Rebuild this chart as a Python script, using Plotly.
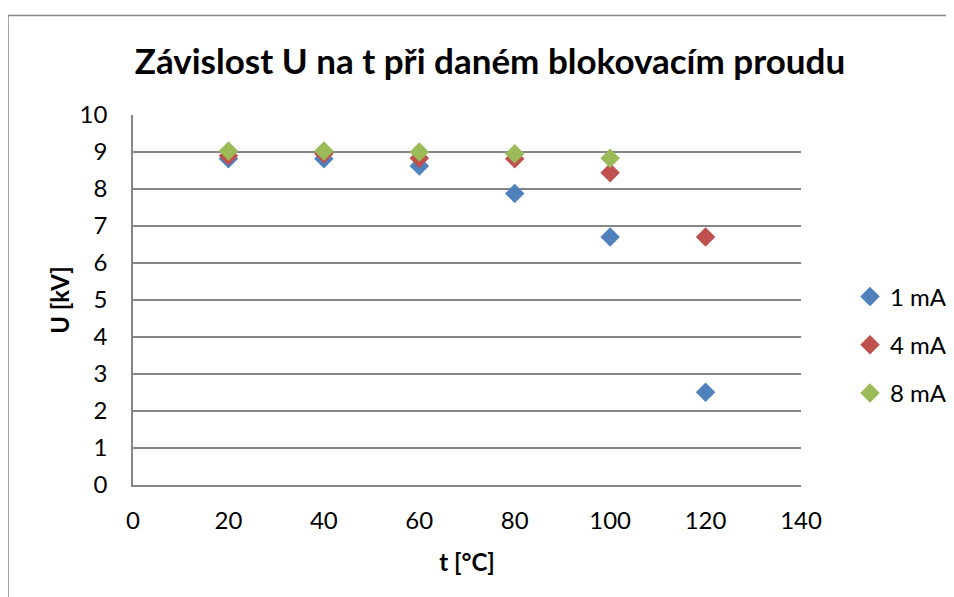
import plotly.graph_objects as go

t_vals = [20, 40, 60, 80, 100, 120]
u_1mA = [8.82, 8.82, 8.62, 7.88, 6.70, 2.51]
u_4mA = [8.90, 8.95, 8.83, 8.82, 8.44, 6.70]
t_8mA = [20, 40, 60, 80, 100]
u_8mA = [9.03, 9.03, 9.00, 8.95, 8.83]

series = [
    ("1 mA", t_vals, u_1mA, "#4F81BD"),
    ("4 mA", t_vals, u_4mA, "#C0504D"),
    ("8 mA", t_8mA, u_8mA, "#9BBB59"),
]

x_ticks = [0, 20, 40, 60, 80, 100, 120, 140]
y_ticks = list(range(0, 11))

FONT = "Lato, 'Open Sans', sans-serif"

fig = go.Figure()
for name, xs, ys, col in series:
    fig.add_trace(go.Scatter(
        x=xs, y=ys, mode="markers", name=name, legendgroup=name,
        marker=dict(symbol="diamond", size=15, color=col, line=dict(width=0)),
    ))

OFF = 8  # page offset
W, H = 954 - OFF, 597 - OFF
L, T = 133 - OFF, 115 - OFF
R = W - (801 - OFF)
B = H - (485 - OFF)
pw = W - L - R
ph = H - T - B

def py(y):  # screen y -> paper
    return ((485 - OFF) - (y - OFF)) / ph

def px(x):
    return ((x - OFF) - L) / pw

fig.update_layout(
    width=W, height=H,
    margin=dict(l=L, r=R, t=T, b=B, autoexpand=False),
    paper_bgcolor="white", plot_bgcolor="white",
    font=dict(family=FONT, size=24, color="black"),
    title=dict(text="<b>Závislost U na t při daném blokovacím proudu</b>",
               x=(490 - OFF) / W, xanchor="center", y=1 - (62 - OFF) / H, yanchor="middle",
               font=dict(size=35, family=FONT)),
    showlegend=True,
    legend=dict(x=px(850), xanchor="left", y=py(345), yanchor="middle",
                font=dict(size=24), itemwidth=30, tracegroupgap=14,
                traceorder="grouped", bgcolor="rgba(0,0,0,0)"),
    xaxis=dict(range=[0, 140], tickvals=x_ticks, showgrid=False,
               showline=True, linecolor="#868686", linewidth=1.5,
               ticks="", ticklabelstandoff=13, zeroline=False,
               title=dict(text="<b>t [°C]</b>", font=dict(size=24), standoff=22)),
    yaxis=dict(range=[0, 10], tickvals=y_ticks, showgrid=True,
               gridcolor="#868686", gridwidth=1.5,
               showline=True, linecolor="#868686", linewidth=1.5,
               ticks="", ticklabelstandoff=19, zeroline=False,
               title=dict(text="<b>U [kV]</b>", font=dict(size=24), standoff=3)),
    shapes=[dict(type="rect", xref="paper", yref="paper",
                 x0=px(8), x1=px(1000),
                 y0=py(700), y1=py(15.5),
                 line=dict(color="#868686", width=1.5), layer="below")],
)

fig.write_html("out.html")
